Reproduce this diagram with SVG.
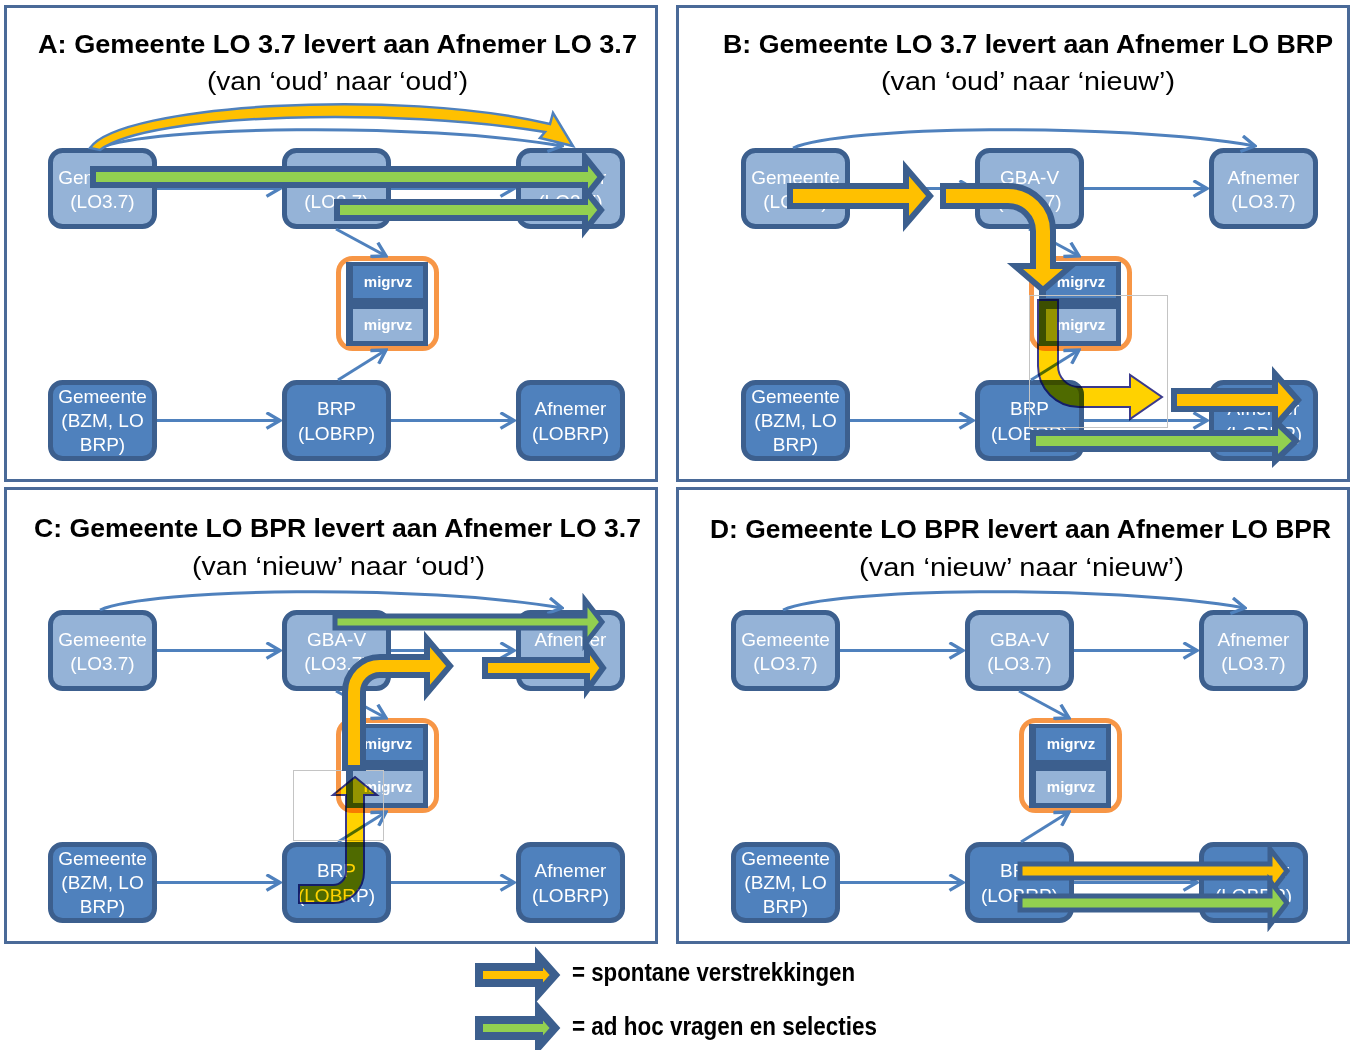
<svg xmlns="http://www.w3.org/2000/svg" width="1351" height="1050" viewBox="0 0 1351 1050">
<style>
.frame{fill:#fff;stroke:#4a6a98;stroke-width:3}
.nl{fill:#95b3d7;stroke:#3c5f8e;stroke-width:5}
.nd{fill:#4f81bd;stroke:#3c5f8e;stroke-width:5}
.nt{font-family:"Liberation Sans",Arial,sans-serif;font-size:19px;fill:#fff;text-anchor:middle}
.mo{fill:#fff;stroke:#f79646;stroke-width:5}
.mb{fill:#3c5f8e}
.m1{fill:#4f81bd}
.m2{fill:#95b3d7}
.mt{font-family:"Liberation Sans",Arial,sans-serif;font-size:15px;font-weight:bold;fill:#fff;text-anchor:middle}
.cn{fill:none;stroke:#4f81bd;stroke-width:3;marker-end:url(#ah)}
.ti{font-family:"Liberation Sans",Arial,sans-serif;font-size:25px;font-weight:bold;fill:#000}
.st{font-family:"Liberation Sans",Arial,sans-serif;font-size:25px;fill:#000}
.ay{fill:#ffc000;stroke:#3c5f8e;stroke-width:6;stroke-linejoin:miter;stroke-miterlimit:10}
.ag{fill:#92d050;stroke:#3c5f8e;stroke-width:6;stroke-linejoin:miter;stroke-miterlimit:10}
.thin{stroke-width:5}
.at{fill:#ffd200;stroke:#3b3a8c;stroke-width:2;mix-blend-mode:multiply}
.gr{fill:none;stroke:#c4c4c4;stroke-width:1}
.lg{font-family:"Liberation Sans",Arial,sans-serif;font-size:26px;font-weight:bold;fill:#000}
</style>
<defs>
<marker id="ah" markerUnits="userSpaceOnUse" markerWidth="18" markerHeight="18" refX="14" refY="8" orient="auto" viewBox="0 0 16 16">
<path d="M2,1 L14,8 L2,15" fill="none" stroke="#4f81bd" stroke-width="3"/>
</marker>
</defs>

<g id="frames">
<rect class="frame" x="5.5" y="6.5" width="651" height="474"/>
<rect class="frame" x="677.5" y="6.5" width="671" height="474"/>
<rect class="frame" x="5.5" y="488.5" width="651" height="454"/>
<rect class="frame" x="677.5" y="488.5" width="671" height="454"/>
</g>

<g id="titles">
<text class="ti" x="38" y="53" textLength="599" lengthAdjust="spacingAndGlyphs">A: Gemeente LO 3.7 levert aan Afnemer LO 3.7</text>
<text class="st" x="207" y="90" textLength="261" lengthAdjust="spacingAndGlyphs">(van ‘oud’ naar ‘oud’)</text>
<text class="ti" x="723" y="53" textLength="610" lengthAdjust="spacingAndGlyphs">B: Gemeente LO 3.7 levert aan Afnemer LO BRP</text>
<text class="st" x="881" y="90" textLength="294" lengthAdjust="spacingAndGlyphs">(van ‘oud’ naar ‘nieuw’)</text>
<text class="ti" x="34" y="537" textLength="607" lengthAdjust="spacingAndGlyphs">C: Gemeente LO BPR levert aan Afnemer LO 3.7</text>
<text class="st" x="192" y="575" textLength="293" lengthAdjust="spacingAndGlyphs">(van ‘nieuw’ naar ‘oud’)</text>
<text class="ti" x="710" y="538" textLength="621" lengthAdjust="spacingAndGlyphs">D: Gemeente LO BPR levert aan Afnemer LO BPR</text>
<text class="st" x="859" y="576" textLength="325" lengthAdjust="spacingAndGlyphs">(van ‘nieuw’ naar ‘nieuw’)</text>
</g>

<g id="nodes">
<g id="panelA-nodes">
<g id="A-gemeente-lo37"><rect class="nl" x="50.5" y="150.5" width="104" height="76" rx="12"/><text class="nt" x="102.5" y="184">Gemeente</text><text class="nt" x="102.5" y="208">(LO3.7)</text></g>
<g id="A-gbav"><rect class="nl" x="284.5" y="150.5" width="104" height="76" rx="12"/><text class="nt" x="336.5" y="184">GBA-V</text><text class="nt" x="336.5" y="208">(LO3.7)</text></g>
<g id="A-afnemer-lo37"><rect class="nl" x="518.5" y="150.5" width="104" height="76" rx="12"/><text class="nt" x="570.5" y="184">Afnemer</text><text class="nt" x="570.5" y="208">(LO3.7)</text></g>
<g id="A-migrvz"><rect class="mo" x="338.5" y="258.5" width="98" height="90" rx="14"/><rect class="mb" x="346" y="262" width="82" height="84"/><rect class="m1" x="353" y="266" width="70" height="32"/><rect class="m2" x="353" y="309" width="70" height="32"/><text class="mt" x="388" y="287">migrvz</text><text class="mt" x="388" y="330">migrvz</text></g>
<g id="A-gemeente-brp"><rect class="nd" x="50.5" y="382.5" width="104" height="76" rx="12"/><text class="nt" x="102.5" y="403">Gemeente</text><text class="nt" x="102.5" y="427">(BZM, LO</text><text class="nt" x="102.5" y="451">BRP)</text></g>
<g id="A-brp"><rect class="nd" x="284.5" y="382.5" width="104" height="76" rx="12"/><text class="nt" x="336.5" y="415">BRP</text><text class="nt" x="336.5" y="440">(LOBRP)</text></g>
<g id="A-afnemer-brp"><rect class="nd" x="518.5" y="382.5" width="104" height="76" rx="12"/><text class="nt" x="570.5" y="415">Afnemer</text><text class="nt" x="570.5" y="440">(LOBRP)</text></g>
</g>
<g id="panelB-nodes" transform="translate(693,0)">
<g id="B-gemeente-lo37"><rect class="nl" x="50.5" y="150.5" width="104" height="76" rx="12"/><text class="nt" x="102.5" y="184">Gemeente</text><text class="nt" x="102.5" y="208">(LO3.7)</text></g>
<g id="B-gbav"><rect class="nl" x="284.5" y="150.5" width="104" height="76" rx="12"/><text class="nt" x="336.5" y="184">GBA-V</text><text class="nt" x="336.5" y="208">(LO3.7)</text></g>
<g id="B-afnemer-lo37"><rect class="nl" x="518.5" y="150.5" width="104" height="76" rx="12"/><text class="nt" x="570.5" y="184">Afnemer</text><text class="nt" x="570.5" y="208">(LO3.7)</text></g>
<g id="B-migrvz"><rect class="mo" x="338.5" y="258.5" width="98" height="90" rx="14"/><rect class="mb" x="346" y="262" width="82" height="84"/><rect class="m1" x="353" y="266" width="70" height="32"/><rect class="m2" x="353" y="309" width="70" height="32"/><text class="mt" x="388" y="287">migrvz</text><text class="mt" x="388" y="330">migrvz</text></g>
<g id="B-gemeente-brp"><rect class="nd" x="50.5" y="382.5" width="104" height="76" rx="12"/><text class="nt" x="102.5" y="403">Gemeente</text><text class="nt" x="102.5" y="427">(BZM, LO</text><text class="nt" x="102.5" y="451">BRP)</text></g>
<g id="B-brp"><rect class="nd" x="284.5" y="382.5" width="104" height="76" rx="12"/><text class="nt" x="336.5" y="415">BRP</text><text class="nt" x="336.5" y="440">(LOBRP)</text></g>
<g id="B-afnemer-brp"><rect class="nd" x="518.5" y="382.5" width="104" height="76" rx="12"/><text class="nt" x="570.5" y="415">Afnemer</text><text class="nt" x="570.5" y="440">(LOBRP)</text></g>
</g>
<g id="panelC-nodes" transform="translate(0,462)">
<g id="C-gemeente-lo37"><rect class="nl" x="50.5" y="150.5" width="104" height="76" rx="12"/><text class="nt" x="102.5" y="184">Gemeente</text><text class="nt" x="102.5" y="208">(LO3.7)</text></g>
<g id="C-gbav"><rect class="nl" x="284.5" y="150.5" width="104" height="76" rx="12"/><text class="nt" x="336.5" y="184">GBA-V</text><text class="nt" x="336.5" y="208">(LO3.7)</text></g>
<g id="C-afnemer-lo37"><rect class="nl" x="518.5" y="150.5" width="104" height="76" rx="12"/><text class="nt" x="570.5" y="184">Afnemer</text><text class="nt" x="570.5" y="208">(LO3.7)</text></g>
<g id="C-migrvz"><rect class="mo" x="338.5" y="258.5" width="98" height="90" rx="14"/><rect class="mb" x="346" y="262" width="82" height="84"/><rect class="m1" x="353" y="266" width="70" height="32"/><rect class="m2" x="353" y="309" width="70" height="32"/><text class="mt" x="388" y="287">migrvz</text><text class="mt" x="388" y="330">migrvz</text></g>
<g id="C-gemeente-brp"><rect class="nd" x="50.5" y="382.5" width="104" height="76" rx="12"/><text class="nt" x="102.5" y="403">Gemeente</text><text class="nt" x="102.5" y="427">(BZM, LO</text><text class="nt" x="102.5" y="451">BRP)</text></g>
<g id="C-brp"><rect class="nd" x="284.5" y="382.5" width="104" height="76" rx="12"/><text class="nt" x="336.5" y="415">BRP</text><text class="nt" x="336.5" y="440">(LOBRP)</text></g>
<g id="C-afnemer-brp"><rect class="nd" x="518.5" y="382.5" width="104" height="76" rx="12"/><text class="nt" x="570.5" y="415">Afnemer</text><text class="nt" x="570.5" y="440">(LOBRP)</text></g>
</g>
<g id="panelD-nodes" transform="translate(683,462)">
<g id="D-gemeente-lo37"><rect class="nl" x="50.5" y="150.5" width="104" height="76" rx="12"/><text class="nt" x="102.5" y="184">Gemeente</text><text class="nt" x="102.5" y="208">(LO3.7)</text></g>
<g id="D-gbav"><rect class="nl" x="284.5" y="150.5" width="104" height="76" rx="12"/><text class="nt" x="336.5" y="184">GBA-V</text><text class="nt" x="336.5" y="208">(LO3.7)</text></g>
<g id="D-afnemer-lo37"><rect class="nl" x="518.5" y="150.5" width="104" height="76" rx="12"/><text class="nt" x="570.5" y="184">Afnemer</text><text class="nt" x="570.5" y="208">(LO3.7)</text></g>
<g id="D-migrvz"><rect class="mo" x="338.5" y="258.5" width="98" height="90" rx="14"/><rect class="mb" x="346" y="262" width="82" height="84"/><rect class="m1" x="353" y="266" width="70" height="32"/><rect class="m2" x="353" y="309" width="70" height="32"/><text class="mt" x="388" y="287">migrvz</text><text class="mt" x="388" y="330">migrvz</text></g>
<g id="D-gemeente-brp"><rect class="nd" x="50.5" y="382.5" width="104" height="76" rx="12"/><text class="nt" x="102.5" y="403">Gemeente</text><text class="nt" x="102.5" y="427">(BZM, LO</text><text class="nt" x="102.5" y="451">BRP)</text></g>
<g id="D-brp"><rect class="nd" x="284.5" y="382.5" width="104" height="76" rx="12"/><text class="nt" x="336.5" y="415">BRP</text><text class="nt" x="336.5" y="440">(LOBRP)</text></g>
<g id="D-afnemer-brp"><rect class="nd" x="518.5" y="382.5" width="104" height="76" rx="12"/><text class="nt" x="570.5" y="415">Afnemer</text><text class="nt" x="570.5" y="440">(LOBRP)</text></g>
</g>
</g>

<g id="connectors">
<g transform="translate(0,0)">
<path class="cn" d="M157 188.5 H280"/><path class="cn" d="M391 188.5 H514"/>
<path class="cn" d="M157 420.5 H280"/><path class="cn" d="M391 420.5 H514"/>
<path class="cn" d="M336 229 L386 256"/><path class="cn" d="M338 380 L386 350"/>
<path class="cn" d="M100 148 C150 126,420 122,562 146"/>
</g>
<g transform="translate(693,0)">
<path class="cn" d="M157 188.5 H280"/><path class="cn" d="M391 188.5 H514"/>
<path class="cn" d="M157 420.5 H280"/><path class="cn" d="M391 420.5 H514"/>
<path class="cn" d="M336 229 L386 256"/><path class="cn" d="M338 380 L386 350"/>
<path class="cn" d="M100 148 C150 126,420 122,562 146"/>
</g>
<g transform="translate(0,462)">
<path class="cn" d="M157 188.5 H280"/><path class="cn" d="M391 188.5 H514"/>
<path class="cn" d="M157 420.5 H280"/><path class="cn" d="M391 420.5 H514"/>
<path class="cn" d="M336 229 L386 256"/><path class="cn" d="M338 380 L386 350"/>
<path class="cn" d="M100 148 C150 126,420 122,562 146"/>
</g>
<g transform="translate(683,462)">
<path class="cn" d="M157 188.5 H280"/><path class="cn" d="M391 188.5 H514"/>
<path class="cn" d="M157 420.5 H280"/><path class="cn" d="M391 420.5 H514"/>
<path class="cn" d="M336 229 L386 256"/><path class="cn" d="M338 380 L386 350"/>
<path class="cn" d="M100 148 C150 126,420 122,562 146"/>
</g>
</g>

<g id="flow-arrows">
<g id="A-flows">
<path d="M90 148 C120 104,400 88,550 124 L553 113 L573 146 L540 138 L545 132 C400 108,150 112,100 150 Z" fill="#ffc000" stroke="#4f81bd" stroke-width="2.5"/>
<polygon class="ag" points="93,169 585,169 585,157 601,177 585,197 585,185 93,185"/>
<polygon class="ag" points="337,202 585,202 585,190 601,210 585,230 585,218 337,218"/>
</g>
<g id="B-flows">
<rect class="gr" x="1029.5" y="295.5" width="138" height="132"/>
<polygon class="ay" points="790,186 906,186 906,168 930,196 906,224 906,206 790,206"/>
<path class="ay" d="M943 186 L1008 186 A45 45 0 0 1 1053 231 L1053 266 L1071 266 L1043 290 L1015 266 L1033 266 L1033 231 A25 25 0 0 0 1008 206 L943 206 Z"/>
<path class="at" d="M1038 300 L1038 366 A41 41 0 0 0 1079 407 L1130 407 L1130 419 L1162 397 L1130 375 L1130 387 L1079 387 A21 21 0 0 1 1058 366 L1058 300 Z"/>
<polygon class="ay" points="1174,391 1275,391 1275,374 1298,400 1275,426 1275,409 1174,409"/>
<polygon class="ag" points="1033,433 1275,433 1275,421 1296,441 1275,461 1275,449 1033,449"/>
</g>
<g id="C-flows">
<rect class="gr" x="293.5" y="770.5" width="90" height="70"/>
<polygon class="ag thin" points="335,616 585,616 585,600 602,622 585,644 585,628 335,628"/>
<path class="ay" d="M345 768 L345 692 A35 35 0 0 1 380 657 L427 657 L427 639 L450 666 L427 693 L427 675 L380 675 A17 17 0 0 0 363 692 L363 768 Z"/>
<polygon class="ay" points="485,660 587,660 587,646 603,668 587,690 587,676 485,676"/>
<path class="at" d="M299 885 L333 885 A13 13 0 0 0 346 872 L346 795 L333 795 L355 777 L377 795 L364 795 L364 872 A31 31 0 0 1 333 903 L299 903 Z"/>
</g>
<g id="D-flows">
<polygon class="ay thin" points="1020,864 1270,864 1270,849 1287,871 1270,893 1270,878 1020,878"/>
<polygon class="ag thin" points="1020,896 1270,896 1270,881 1287,903 1270,925 1270,910 1020,910"/>
</g>
</g>

<g id="legend">
<polygon points="479,967 539,967 539,957 555,975 539,993 539,983 479,983" fill="#ffc000" stroke="#3c5f8e" stroke-width="8" stroke-miterlimit="3"/>
<text class="lg" x="572" y="981" textLength="283" lengthAdjust="spacingAndGlyphs">= spontane verstrekkingen</text>
<polygon points="479,1020 539,1020 539,1010 555,1028 539,1046 539,1036 479,1036" fill="#92d050" stroke="#3c5f8e" stroke-width="8" stroke-miterlimit="3"/>
<text class="lg" x="572" y="1035" textLength="305" lengthAdjust="spacingAndGlyphs">= ad hoc vragen en selecties</text>
</g>
</svg>
